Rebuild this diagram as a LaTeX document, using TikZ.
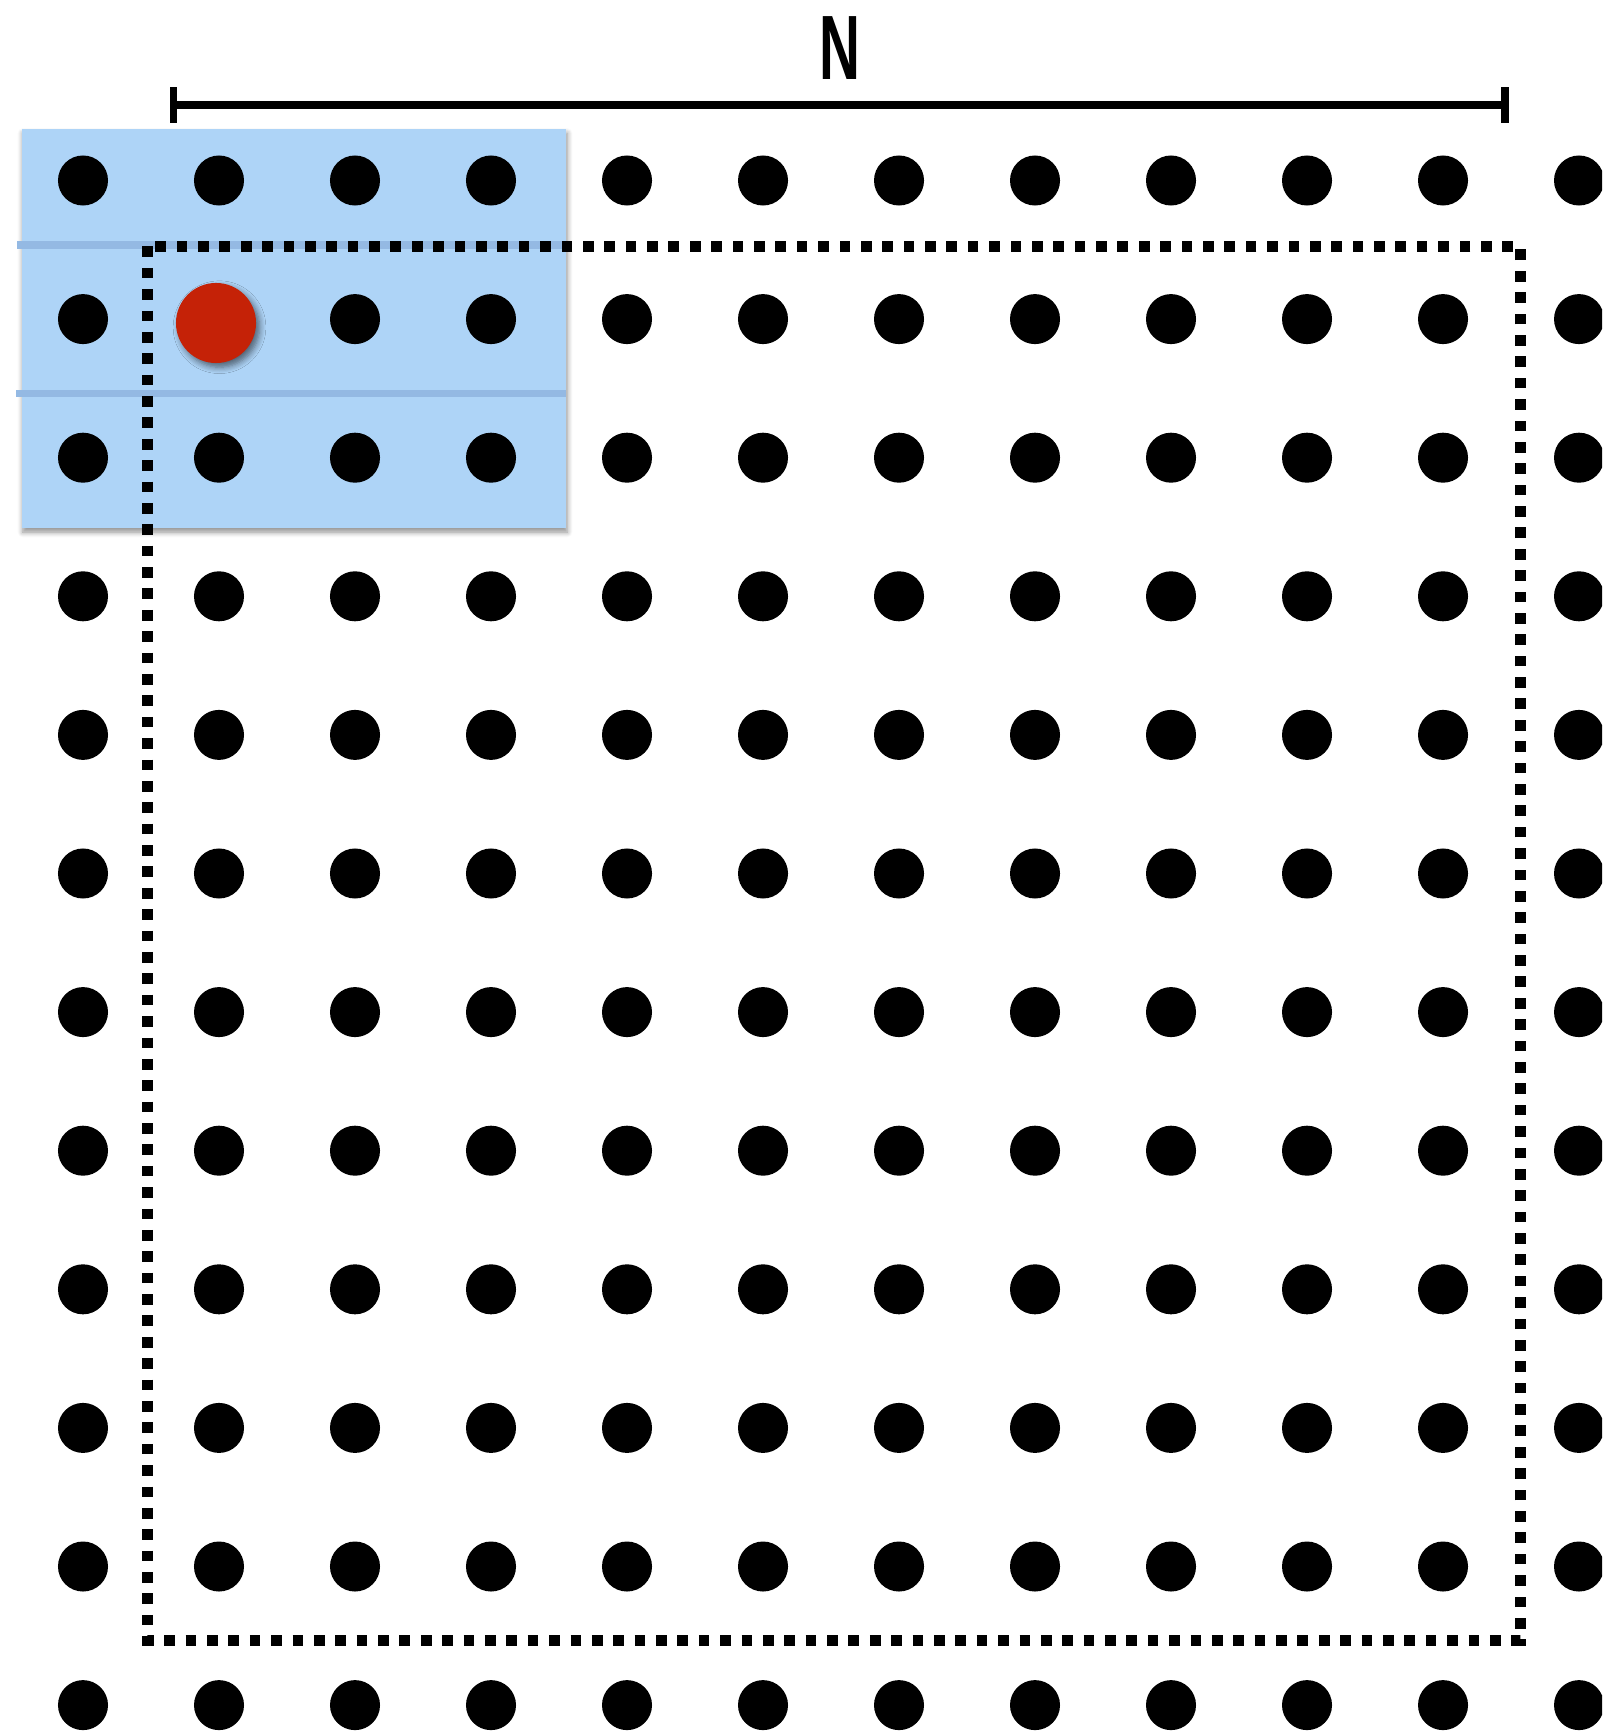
\documentclass[tikz,border=0pt]{standalone}
\usepackage{fontspec}
\newfontfamily\labelfont{Liberation Sans}
\usetikzlibrary{arrows.meta,shadows.blur}
\definecolor{paneblue}{HTML}{AED4F7}
\definecolor{rowblue}{HTML}{94B9E3}
\definecolor{pickred}{HTML}{C52207}

\begin{document}
\begin{tikzpicture}[x=0.01cm,y=-0.01cm,
  pt/.style={circle,fill=black,inner sep=0pt,minimum size=0.5cm},
  pane/.style={fill=paneblue,inner sep=0pt,minimum width=5.44cm,minimum height=3.985cm,
    blur shadow={shadow xshift=0.3pt,shadow yshift=-1.2pt,shadow blur radius=1.5pt,
      shadow blur steps=6,shadow opacity=45}},
  pick/.style={circle,fill=pickred,inner sep=0pt,minimum size=0.8cm,
    blur shadow={shadow xshift=1pt,shadow yshift=-1.2pt,shadow blur radius=1.8pt,
      shadow blur steps=6,shadow opacity=55}},
  rowline/.style={rowblue,line width=2pt},
  window/.style={line width=3.04pt,dash pattern=on 3.04pt off 3.04pt},
  ruler/.style={line width=2pt,{Bar[width=0.35cm,line width=2.2pt]}-{Bar[width=0.35cm,line width=2.2pt]}}]
 \clip (0,0) rectangle (1602,1731);
 % highlighted rows
 \node[pane] (pane) at (294,328.5) {};
 \coordinate (r1a) at (17,245);  \coordinate (r1b) at (566,245);
 \coordinate (r2a) at (16,393.6); \coordinate (r2b) at (566,393.6);
 \draw[rowline] (r1a) -- (r1b);
 \draw[rowline] (r2a) -- (r2b);
 % window
 \coordinate (w1) at (147.3,246.4);
 \coordinate (w2) at (1520.6,1640.6);
 \draw[window] (w1) rectangle (w2);
 % grid of points
 \foreach \c in {0,...,11}
   \foreach \r in {0,...,11}{
     \pgfmathtruncatemacro\k{\c*12+\r}
     \ifnum\k=13 \else
       \node[pt] (d\c-\r) at ({83+136*\c},{180.5+138.6*\r}) {};
     \fi}
 \node[pick] (cur) at (216,323) {};
 % width label
 \coordinate (nl) at (169.5,105);
 \coordinate (nr) at (1508.5,105);
 \draw[ruler] (nl) -- (nr);
 \node[inner sep=0pt,text depth=0pt,xscale=0.62,font=\labelfont\bfseries\fontsize{26}{26}\selectfont] (N) at (840,48) {N};
\end{tikzpicture}
\end{document}
